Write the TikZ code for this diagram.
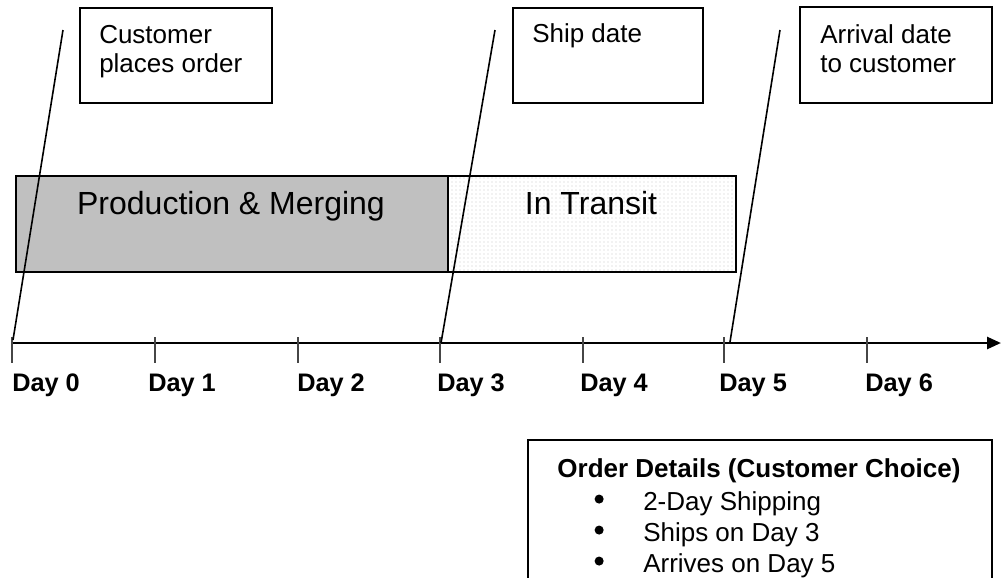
\documentclass[tikz,border=0pt]{standalone}
\usepackage{fontspec}
\setmainfont{Liberation Sans}
\usetikzlibrary{arrows.meta,patterns}
\definecolor{prodgray}{RGB}{192,192,192}
\definecolor{tickgray}{RGB}{70,70,70}
\newcommand{\listdot}{\makebox[37.5pt][l]{\hspace{1pt}\raisebox{4.8pt}{\tikz\fill[black] (0,0) circle (3.4pt);}}}
\begin{document}
\begin{tikzpicture}[x=0.75pt,y=-0.75pt,
  callout/.style={draw=black,line width=1.5pt,anchor=north west,inner sep=0pt},
  calltext/.style={anchor=base west,inner sep=0pt,font=\fontsize{19.5}{21.75}\selectfont},
  phase/.style={draw=black,line width=1.5pt,anchor=north west,inner sep=0pt},
  phasetext/.style={anchor=base,inner sep=0pt,font=\fontsize{24}{28}\selectfont},
  daylabel/.style={anchor=base west,inner sep=0pt,font=\bfseries\fontsize{19}{22}\selectfont},
  tickmark/.style={draw=tickgray,line width=0.9pt},
  pointer/.style={draw=black,line width=1.2pt},
  axis/.style={draw=black,line width=2pt,-{Triangle[length=10.5pt,width=9pt]}}]
\useasboundingbox (0,0) rectangle (1001,582);
\clip (0,0) rectangle (1001,577);

% phase bars
\node[phase,fill=prodgray,minimum width=324pt,minimum height=72pt] (prod) at (15,175) {};
\node[phase,pattern=dots,pattern color=gray!45,minimum width=216pt,minimum height=72pt] (transit) at (447,175) {};
\node[phasetext] (prodtxt) at (231,214) {Production \& Merging};
\node[phasetext] (transtxt) at (591,214) {In Transit};

% time axis
\coordinate (axstart) at (12,343);
\coordinate (axend) at (1001,343);
\draw[axis] (axstart) -- (axend);
\foreach \n/\x/\lx in {0/12/12,1/155/148,2/298/297,3/440/437,4/583/580,5/724/719,6/867/865}{
  \coordinate (t\n) at (\x,343);
  \coordinate (tt\n) at (\x,337);
  \coordinate (tb\n) at (\x,363);
  \draw[tickmark] (tt\n) -- (tb\n);
  \node[daylabel] (day\n) at (\lx,391) {Day \n};
}

% event callouts
\node[callout,minimum width=144pt,minimum height=71.25pt] (order) at (79,7) {};
\node[calltext] (ordertxt) at (99,43) {\vtop{\hbox{Customer}\hbox{places order}}};
\node[callout,minimum width=142.5pt,minimum height=71.25pt] (ship) at (512,7) {};
\node[calltext] (shiptxt) at (532,42) {Ship date};
\node[callout,minimum width=144pt,minimum height=72pt] (arrive) at (799,6) {};
\node[calltext] (arrivetxt) at (820,43) {\vtop{\hbox{Arrival date}\hbox{to customer}}};

% pointers from callouts down to the axis
\coordinate (p0) at (63,30);
\coordinate (p3) at (495,30);
\coordinate (p5) at (780,30);
\coordinate (e0) at (13,340);
\coordinate (e3) at (441,343);
\coordinate (e5) at (730,342);
\draw[pointer] (p0) -- (e0);
\draw[pointer] (p3) -- (e3);
\draw[pointer] (p5) -- (e5);

% order details box
\node[callout,minimum width=348pt,minimum height=120pt] (details) at (527,439) {};
\node[anchor=base,inner sep=0pt,font=\bfseries\fontsize{19.5}{22}\selectfont] (dettitle) at (759,477) {Order Details (Customer Choice)};
\node[calltext,font=\fontsize{19.5}{23.25}\selectfont] (detlist) at (593,510)
  {\vtop{\hbox{\listdot 2-Day Shipping}
         \hbox{\listdot Ships on Day 3}
         \hbox{\listdot Arrives on Day 5}}};
\end{tikzpicture}
\end{document}
